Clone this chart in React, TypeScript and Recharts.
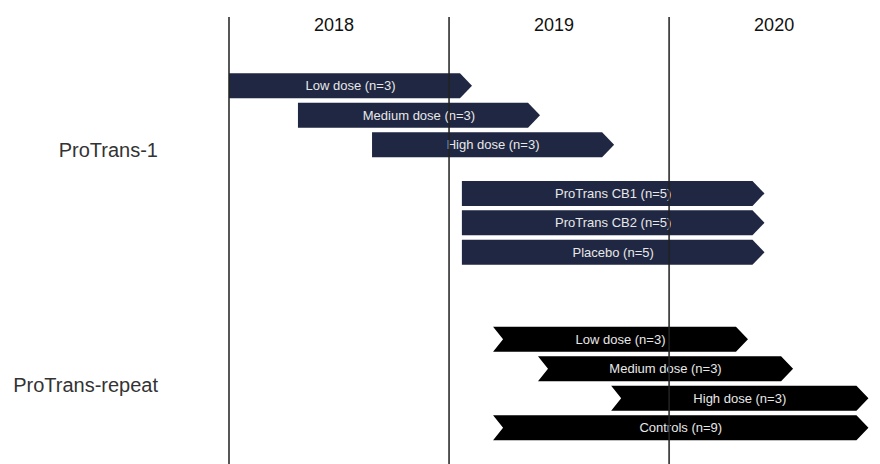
import { BarChart, Bar, XAxis, YAxis, ReferenceLine } from "recharts";

// timeline in months from Jan 2018
const years = ["2018", "2019", "2020"];
const yearStarts = [0, 12, 24];
const yearMids = [6, 18, 30];

const armLabels = [
  "Low dose (n=3)",
  "Medium dose (n=3)",
  "High dose (n=3)",
  "ProTrans CB1 (n=5)",
  "ProTrans CB2 (n=5)",
  "Placebo (n=5)",
  "Low dose (n=3)",
  "Medium dose (n=3)",
  "High dose (n=3)",
  "Controls (n=9)",
];
const armStudy = [0, 0, 0, 0, 0, 0, 1, 1, 1, 1];
const armStart = [0, 3.76, 7.8, 12.7, 12.7, 12.7, 14.4, 16.85, 20.84, 14.4];
const armEnd = [13.25, 16.96, 21.0, 29.2, 29.2, 29.2, 28.3, 30.76, 34.87, 34.87];
const armRow = [0, 1, 2, 3.65, 4.65, 5.65, 8.6, 9.6, 10.6, 11.6];

const studies = ["ProTrans-1", "ProTrans-repeat"];
const studyRows = [2.17, 10.15];

const studyColors = ["#1f2742", "#000000"];
const rowDomain: [number, number] = [-2.34, 12.82];
const font = "'Liberation Sans', Arial, sans-serif";

const data = armLabels.map((label, i) => ({
  label,
  study: armStudy[i],
  row: armRow[i],
  span: [armStart[i], armEnd[i]],
}));

interface ArrowProps {
  x?: number;
  y?: number;
  width?: number;
  height?: number;
  payload?: { label: string; study: number };
}

function Arrow({ x = 0, y = 0, width = 0, height = 0, payload }: ArrowProps) {
  if (!payload) return null;
  const tip = 12;
  const notch = payload.study === 1 ? 10 : 0;
  const mid = y + height / 2;
  const d = [
    `M${x},${y}`,
    `L${x + width - tip},${y}`,
    `L${x + width},${mid}`,
    `L${x + width - tip},${y + height}`,
    `L${x},${y + height}`,
    `L${x + notch},${mid}`,
    "Z",
  ].join(" ");
  return (
    <g>
      <path d={d} fill={studyColors[payload.study]} />
      <text
        x={x + width / 2}
        y={mid}
        dy="0.35em"
        textAnchor="middle"
        fontSize={13}
        fill="#e8e8e8"
        fontFamily={font}
      >
        {payload.label}
      </text>
    </g>
  );
}

function YearTick(props: { x?: number; payload?: { value: number } }) {
  const { x = 0, payload } = props;
  if (!payload) return null;
  const i = yearMids.indexOf(payload.value);
  return (
    <text x={x - 5} y={31} textAnchor="middle" fontSize={18} fill="#111" fontFamily={font}>
      {years[i]}
    </text>
  );
}

function StudyTick(props: { y?: number; payload?: { value: number } }) {
  const { y = 0, payload } = props;
  if (!payload) return null;
  const i = studyRows.indexOf(payload.value);
  return (
    <text x={158} y={y} dy="0.35em" textAnchor="end" fontSize={20} fill="#333" fontFamily={font}>
      {studies[i]}
    </text>
  );
}

export default function App() {
  return (
    <div style={{ position: "absolute", left: 0, top: 0, width: 880, height: 464, background: "#fff" }}>
      <BarChart
        width={880}
        height={464}
        data={data}
        layout="vertical"
        margin={{ top: 0, right: 0, bottom: 0, left: 0 }}
        style={{ fontFamily: font }}
      >
        <XAxis
          type="number"
          orientation="top"
          domain={[0, 35.5]}
          allowDataOverflow
          ticks={yearMids}
          interval={0}
          height={17}
          axisLine={false}
          tickLine={false}
          tick={<YearTick />}
        />
        <YAxis
          type="number"
          dataKey="row"
          domain={rowDomain}
          allowDataOverflow
          ticks={studyRows}
          interval={0}
          width={229}
          axisLine={false}
          tickLine={false}
          tick={<StudyTick />}
        />
        <Bar
          dataKey="span"
          barSize={25}
          shape={<Arrow />}
          isAnimationActive={false}
        />
        {yearStarts.map((m) => (
          <ReferenceLine
            key={m}
            x={m}
            stroke="#222"
            strokeWidth={1.8}
            strokeOpacity={0.85}
          />
        ))}
      </BarChart>
    </div>
  );
}
